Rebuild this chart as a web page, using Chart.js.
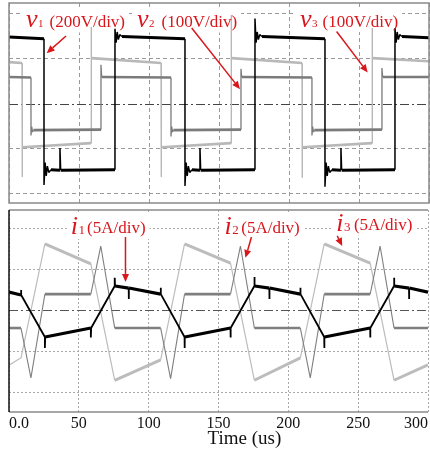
<!DOCTYPE html>
<html lang="en">
<head>
<meta charset="UTF-8">
<title>Phase voltages and currents</title>
<script src="https://cdn.jsdelivr.net/npm/chart.js"></script>
<style>
  body { margin: 0; background: #fff; }
  #wrap { position: relative; width: 430px; height: 453px; }
  .panel { position: absolute; left: 0; width: 430px; }
  #top { top: 0; height: 206px; }
  #bottom { top: 206px; height: 247px; }
</style>
</head>
<body>
<div id="wrap">
  <div class="panel" id="top"><canvas id="volt"></canvas></div>
  <div class="panel" id="bottom"><canvas id="curr"></canvas></div>
</div>
<script>
// time axis (us)
const timeTicks = [0, 50, 100, 150, 200, 250, 300];
// scope divisions drawn as grid lines (0 gets the dash-dot line)
const gridDivs = [-2, -1, 1, 2];

// upper panel, voltages in divisions
const v1Time = [0, 25, 25, 25.8, 26.6, 27.4, 28.4, 30, 36.4, 36.4, 36.9, 75.7, 75.7, 76.5, 77.3, 78.1, 79.1, 80.7,
  125.7, 125.7, 126.5, 127.3, 128.1, 129.1, 130.7, 136.4, 136.4, 136.9, 175.7, 175.7, 176.5, 177.3, 178.1, 179.1, 180.7,
  225.7, 225.7, 226.5, 227.3, 228.1, 229.1, 230.7, 237.1, 237.1, 237.6, 275.7, 275.7, 276.5, 277.3, 278.1, 279.1, 280.7, 300];
const v1Div = [1.49, 1.45, -1.80, -1.30, -1.60, -1.38, -1.52, -1.46, -1.47, -0.98, -1.47, -1.46, 1.67, 1.36, 1.60, 1.43, 1.54, 1.50,
  1.45, -1.82, -1.30, -1.60, -1.38, -1.52, -1.46, -1.47, -0.98, -1.47, -1.46, 1.90, 1.36, 1.60, 1.43, 1.54, 1.50,
  1.45, -1.84, -1.30, -1.60, -1.38, -1.52, -1.46, -1.47, -0.98, -1.47, -1.46, 1.69, 1.36, 1.60, 1.43, 1.54, 1.50, 1.47];

const v2Time = [0, 15.7, 15.7, 16.2, 16.8, 17.4, 65.7, 65.7, 66.2, 115.7, 115.7, 116.2, 116.8, 117.4,
  165.7, 165.7, 166.2, 216.4, 216.4, 216.9, 217.5, 218.1, 266.4, 266.4, 266.9, 300];
const v2Div = [0.60, 0.59, -0.70, -0.50, -0.62, -0.58, -0.57, 0.87, 0.60, 0.59, -0.72, -0.50, -0.62, -0.58,
  -0.57, 0.78, 0.60, 0.59, -0.70, -0.50, -0.62, -0.58, -0.57, 0.80, 0.60, 0.60];

const v3Time = [0, 9.3, 9.3, 9.7, 58.6, 58.6, 59, 108.6, 108.6, 109, 158.6, 158.6, 159, 209.3, 209.3, 209.7, 259.3, 259.3, 259.7, 300];
const v3Div = [0.93, 0.91, -1.62, -0.96, -0.87, 1.71, 1.02, 0.91, -1.62, -0.96, -0.87, 1.98, 1.02, 0.91, -1.64, -0.96, -0.87, 1.69, 1.02, 0.95];

// lower panel, currents in divisions
const i1Time = [0, 8.6, 8.6, 8.8, 25.7, 25.7, 25.9, 58.6, 58.6, 58.8, 75.7, 75.7, 75.9, 85.7, 85.7, 85.9,
  108.6, 108.6, 108.8, 125.7, 125.7, 125.9, 158.6, 158.6, 158.8, 175.7, 175.7, 175.9, 186.4, 186.4, 186.6,
  208.6, 208.6, 208.8, 225.7, 225.7, 225.9, 258.6, 258.6, 258.8, 275.7, 275.7, 275.9, 286.4, 286.4, 286.6, 300];
const i1Div = [0.45, 0.38, 0.50, 0.38, -0.65, -0.92, -0.65, -0.43, -0.66, -0.43, 0.60, 0.80, 0.60, 0.55, 0.28, 0.55,
  0.40, 0.56, 0.40, -0.65, -0.92, -0.65, -0.43, -0.66, -0.43, 0.60, 0.82, 0.60, 0.55, 0.28, 0.55,
  0.40, 0.56, 0.40, -0.65, -0.92, -0.65, -0.43, -0.66, -0.43, 0.60, 0.80, 0.60, 0.55, 0.28, 0.55, 0.45];

const i2Time = [0, 8.6, 15.7, 25.7, 58.6, 65.7, 75.7, 108.6, 115.7, 125.7, 158.6, 165.7, 175.7, 208.6, 215.7, 225.7, 258.6, 265.7, 275.7, 300];
const i2Div = [-0.43, -0.43, -1.65, 0.40, 0.40, 1.58, -0.43, -0.43, -1.67, 0.40, 0.40, 1.58, -0.43, -0.43, -1.65, 0.40, 0.40, 1.58, -0.43, -0.43];

const i3Time = [0, 8.6, 25.7, 58.6, 75.7, 108.6, 125.7, 158.6, 175.7, 208.6, 225.7, 258.6, 275.7, 300];
const i3Div = [-1.34, -1.16, 1.63, 1.14, -1.71, -1.21, 1.63, 1.16, -1.71, -1.16, 1.63, 1.16, -1.71, -1.33];

const SERIF = '"Liberation Serif", "Times New Roman", serif';
const RED = '#d9161c';

// labels: symbol, subscript, scale text, anchored in data units (t, div)
const voltNotes = [
  { t: 12.1, v: 1.70, sym: 'v', sub: '1', unit: '(200V/div)', subSize: 11, gap: 6 },
  { t: 91.4, v: 1.70, sym: 'v', sub: '2', unit: '(100V/div)', subSize: 11, gap: 7 },
  { t: 207.9, v: 1.71, sym: 'v', sub: '3', unit: '(100V/div)', subSize: 11, gap: 5 }
];
const voltArrows = [
  { from: [40.7, 1.51], to: [26.9, 1.13] },
  { from: [130.5, 1.69], to: [165, 0.33] },
  { from: [234, 1.61], to: [256.2, 0.70] }
];
const currNotes = [
  { t: 44.3, v: 1.875, sym: 'i', sub: '1', unit: '(5A/div)', subSize: 13, gap: 2 },
  { t: 154.3, v: 1.875, sym: 'i', sub: '2', unit: '(5A/div)', subSize: 13, gap: 2.5 },
  { t: 234.3, v: 1.96, sym: 'i', sub: '3', unit: '(5A/div)', subSize: 13, gap: 3.5 }
];
const currArrows = [
  { from: [83.4, 1.80], to: [83.4, 0.70] },
  { from: [173.6, 1.80], to: [169.3, 1.29] },
  { from: [235, 1.83], to: [238.6, 1.58] }
];

function pts(ts, vs) {
  return ts.map((t, i) => ({ x: t, y: vs[i] }));
}

// flat (noisy) stretches are drawn heavier than the fast edges
function trace(ts, vs, color, thick, thin) {
  return {
    data: pts(ts, vs),
    borderColor: color,
    borderWidth: thick,
    borderJoinStyle: 'bevel',
    pointRadius: 0,
    tension: 0,
    fill: false,
    segment: {
      borderWidth: ctx => {
        const dx = Math.abs(ctx.p1.x - ctx.p0.x);
        const dy = Math.abs(ctx.p1.y - ctx.p0.y);
        return dy <= dx * 0.6 ? thick : thin;
      }
    }
  };
}

function noteLayout(ctx, n, x) {
  ctx.font = 'italic 26px ' + SERIF;
  const w1 = ctx.measureText(n.sym).width;
  ctx.font = n.subSize + 'px ' + SERIF;
  const w2 = ctx.measureText(n.sub).width;
  ctx.font = '17px ' + SERIF;
  const w3 = ctx.measureText(n.unit).width;
  const xs = x, xsub = x + w1 + 0.5, xu = xsub + w2 + n.gap;
  return { xs, xsub, xu, end: xu + w3 };
}

function arrow(ctx, x0, y0, x1, y1) {
  const a = Math.atan2(y1 - y0, x1 - x0);
  const len = 8, half = 3.5;
  const bx = x1 - len * Math.cos(a), by = y1 - len * Math.sin(a);
  ctx.beginPath();
  ctx.moveTo(x0, y0);
  ctx.lineTo(bx, by);
  ctx.stroke();
  ctx.beginPath();
  ctx.moveTo(x1, y1);
  ctx.lineTo(bx + half * Math.sin(a), by - half * Math.cos(a));
  ctx.lineTo(bx - half * Math.sin(a), by + half * Math.cos(a));
  ctx.closePath();
  ctx.fill();
}

function panelPlugin(notes, arrows, style) {
  return {
    id: 'panel',
    beforeDatasetsDraw(chart) {
      const { ctx, chartArea: a, scales: { x, y } } = chart;
      ctx.save();
      // zero reference, dash-dot
      const y0 = Math.round(y.getPixelForValue(0)) + 0.5;
      ctx.strokeStyle = style.zeroColor;
      ctx.lineWidth = 1;
      ctx.setLineDash([9, 3, 2, 3]);
      ctx.beginPath();
      ctx.moveTo(a.left, y0);
      ctx.lineTo(a.right, y0);
      ctx.stroke();
      ctx.setLineDash([]);
      // white boxes under the labels
      ctx.fillStyle = '#fff';
      notes.forEach(n => {
        const base = y.getPixelForValue(n.v);
        const L = noteLayout(ctx, n, x.getPixelForValue(n.t));
        ctx.fillRect(L.xs - 4, base - 20, L.end - L.xs + 8, 25);
      });
      ctx.restore();
    },
    afterDatasetsDraw(chart) {
      const { ctx, chartArea: a, scales: { x, y } } = chart;
      ctx.save();
      // frame
      ctx.lineWidth = 1.5;
      ctx.strokeStyle = style.frameColor;
      ctx.beginPath();
      if (style.fullBox) {
        ctx.rect(a.left, a.top, a.right - a.left, a.bottom - a.top);
      } else {
        ctx.moveTo(a.left, a.top); ctx.lineTo(a.right, a.top);
        ctx.moveTo(a.left, a.bottom); ctx.lineTo(a.right, a.bottom);
      }
      ctx.stroke();
      if (!style.fullBox) {
        ctx.strokeStyle = '#111';
        ctx.beginPath();
        ctx.moveTo(a.left, a.top); ctx.lineTo(a.left, a.bottom);
        ctx.stroke();
      }
      // labels
      ctx.fillStyle = RED;
      ctx.strokeStyle = RED;
      ctx.textBaseline = 'alphabetic';
      notes.forEach(n => {
        const base = y.getPixelForValue(n.v);
        const L = noteLayout(ctx, n, x.getPixelForValue(n.t));
        ctx.font = 'italic 26px ' + SERIF;
        ctx.fillText(n.sym, L.xs, base);
        ctx.font = n.subSize + 'px ' + SERIF;
        ctx.fillText(n.sub, L.xsub, base);
        ctx.font = '17px ' + SERIF;
        ctx.fillText(n.unit, L.xu, base - 0.5);
      });
      ctx.lineWidth = 1.5;
      arrows.forEach(r => {
        arrow(ctx, x.getPixelForValue(r.from[0]), y.getPixelForValue(r.from[1]),
          x.getPixelForValue(r.to[0]), y.getPixelForValue(r.to[1]));
      });
      if (style.title) {
        ctx.fillStyle = '#111';
        ctx.font = '19px ' + SERIF;
        ctx.textAlign = 'center';
        ctx.fillText(style.title, x.getPixelForValue(168.6), a.bottom + 32);
      }
      ctx.restore();
    }
  };
}

function yScale(min, max, dash, color) {
  return {
    type: 'linear', min: min, max: max,
    afterBuildTicks: s => { s.ticks = gridDivs.map(v => ({ value: v })); },
    afterFit: s => { s.width = 0; },
    ticks: { display: false },
    grid: { color: color, lineWidth: 1, drawTicks: false },
    border: { display: false, dash: dash }
  };
}

const commonOpts = {
  responsive: true,
  maintainAspectRatio: false,
  animation: false,
  events: [],
  plugins: { legend: { display: false }, tooltip: { enabled: false } }
};

// upper panel: voltages
new Chart(document.getElementById('volt'), {
  type: 'line',
  data: {
    datasets: [
      trace(v1Time, v1Div, '#000', 3, 1.5),
      trace(v2Time, v2Div, '#7b7b7b', 2.6, 1.3),
      trace(v3Time, v3Div, '#b8b8b8', 2.6, 1.4)
    ]
  },
  options: Object.assign({}, commonOpts, {
    layout: { padding: { left: 9, right: 1, top: 3, bottom: 3 } },
    scales: {
      x: {
        type: 'linear', min: 0, max: 300,
        afterBuildTicks: s => { s.ticks = timeTicks.map(v => ({ value: v })); },
        afterFit: s => { s.height = 0; },
        ticks: { display: false },
        grid: { color: '#9a9a9a', lineWidth: 1, drawTicks: false },
        border: { display: false, dash: [4, 3] }
      },
      y: yScale(-2.2, 2.244, [4, 3], '#9a9a9a')
    }
  }),
  plugins: [panelPlugin(voltNotes, voltArrows, { zeroColor: '#444', frameColor: '#8a8a8a', fullBox: true })]
});

// lower panel: currents
new Chart(document.getElementById('curr'), {
  type: 'line',
  data: {
    datasets: [
      trace(i1Time, i1Div, '#000', 3.2, 1.8),
      trace(i2Time, i2Div, '#7f7f7f', 2.6, 1.1),
      trace(i3Time, i3Div, '#bcbcbc', 3, 1.2)
    ]
  },
  options: Object.assign({}, commonOpts, {
    layout: { padding: { left: 9, right: 1, top: 4, bottom: 0 } },
    scales: {
      x: {
        type: 'linear', min: 0, max: 300,
        afterBuildTicks: s => { s.ticks = timeTicks.map(v => ({ value: v })); },
        afterFit: s => { s.height = 41; },
        ticks: {
          color: '#111', padding: 2, align: 'inner', maxRotation: 0,
          font: { family: SERIF, size: 16 },
          callback: v => v === 0 ? '0.0' : String(v)
        },
        grid: { color: '#a8a8a8', lineWidth: 1, drawTicks: false },
        border: { display: false, dash: [2, 2] }
      },
      y: yScale(-2.488, 2.463, [2, 2], '#a8a8a8')
    }
  }),
  plugins: [panelPlugin(currNotes, currArrows, { zeroColor: '#555', frameColor: '#8a8a8a', fullBox: false, title: 'Time (us)' })]
});
</script>
</body>
</html>
